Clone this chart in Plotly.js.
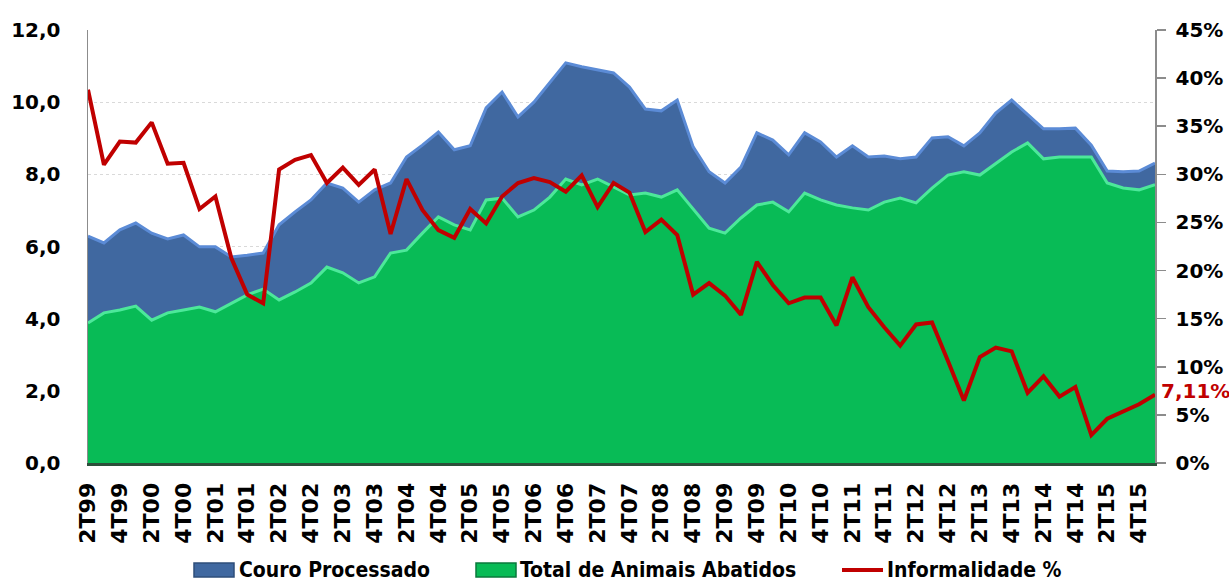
<!DOCTYPE html>
<html>
<head>
<meta charset="utf-8">
<script src="https://cdn.plot.ly/plotly-3.0.1.min.js"></script>
<style>html,body{margin:0;padding:0;background:#fff;}#chart{width:1229px;height:583px;}</style>
</head>
<body>
<div id="chart"></div>
<script>
var quarters = ["2T99","3T99","4T99",
"1T00","2T00","3T00","4T00","1T01","2T01","3T01","4T01",
"1T02","2T02","3T02","4T02","1T03","2T03","3T03","4T03",
"1T04","2T04","3T04","4T04","1T05","2T05","3T05","4T05",
"1T06","2T06","3T06","4T06","1T07","2T07","3T07","4T07",
"1T08","2T08","3T08","4T08","1T09","2T09","3T09","4T09",
"1T10","2T10","3T10","4T10","1T11","2T11","3T11","4T11",
"1T12","2T12","3T12","4T12","1T13","2T13","3T13","4T13",
"1T14","2T14","3T14","4T14","1T15","2T15","3T15","4T15","1T16"];

var tickLabels = ["2T99","4T99","2T00","4T00","2T01","4T01","2T02","4T02","2T03","4T03",
"2T04","4T04","2T05","4T05","2T06","4T06","2T07","4T07","2T08","4T08",
"2T09","4T09","2T10","4T10","2T11","4T11","2T12","4T12","2T13","4T13",
"2T14","4T14","2T15","4T15"];

var leftTicks = [0,2,4,6,8,10,12];
var rightTicks = [0,5,10,15,20,25,30,35,40,45];
var rightTickText = ["0%","5%","10%","15%","20%","25%","30%","35%","40%","45%"];

// Couro Processado (milhões)
var couroProcessado = [6.29,6.10,6.46,6.65,6.37,6.21,6.32,5.99,5.99,5.71,5.76,5.82,
6.60,6.96,7.29,7.76,7.62,7.23,7.57,7.76,8.48,8.81,9.17,8.68,8.79,9.84,10.28,9.59,
10.00,10.53,11.09,10.98,10.89,10.81,10.42,9.81,9.76,10.06,8.76,8.07,7.76,8.20,
9.15,8.95,8.54,9.15,8.90,8.48,8.79,8.48,8.51,8.43,8.48,9.01,9.04,8.79,9.15,9.70,
10.06,9.65,9.26,9.26,9.28,8.81,8.09,8.07,8.09,8.31];

// Total de Animais Abatidos (milhões)
var totalAbatidos = [3.88,4.16,4.24,4.35,3.96,4.16,4.24,4.32,4.19,4.43,4.66,4.82,
4.52,4.74,4.99,5.43,5.27,4.99,5.16,5.82,5.90,6.37,6.82,6.60,6.46,7.29,7.34,6.82,
7.01,7.37,7.87,7.71,7.87,7.65,7.43,7.48,7.37,7.57,7.04,6.51,6.37,6.79,
7.15,7.23,6.96,7.48,7.29,7.15,7.07,7.01,7.23,7.34,7.21,7.62,7.98,8.07,7.98,8.31,
8.62,8.87,8.43,8.48,8.48,8.48,7.76,7.62,7.57,7.71];

// Informalidade (%)
var informalidade = [38.8,31.0,33.4,33.3,35.4,31.1,31.2,26.4,27.7,21.3,17.5,16.6,
30.5,31.5,32.0,29.1,30.7,28.9,30.5,23.8,29.5,26.3,24.2,23.4,26.4,24.9,27.7,29.1,
29.6,29.2,28.2,29.9,26.6,29.1,28.1,24.0,25.3,23.7,17.5,18.7,17.4,15.4,
20.9,18.5,16.6,17.2,17.2,14.3,19.3,16.2,14.1,12.2,14.4,14.6,10.6,6.5,11.0,12.0,
11.6,7.3,9.0,6.9,7.9,2.9,4.6,5.3,6.1,7.11];

var seriesNames = ["Couro Processado", "Total de Animais Abatidos", "Informalidade %"];
var lastLabel = "7,11%";

var colors = {
  blueFill: "#4068A0", blueEdge: "#5B8BD6", blueDark: "#2E4D7A",
  greenFill: "#08BB56", greenEdge: "#4DE89A", greenDark: "#0A7A3C",
  red: "#C00000"
};

var W = 1229, H = 583;
var M = {l: 88, r: 74, t: 30, b: 120};
var plotW = W - M.l - M.r, plotH = H - M.t - M.b;
function px(x) { return (x - M.l) / plotW; }
function py(y) { return (H - M.b - y) / plotH; }

var tickFont = {family: "DejaVu Sans", size: 20, color: "#000", weight: "bold"};
var legendFont = {family: "DejaVu Sans Condensed, DejaVu Sans", size: 21, color: "#000", weight: "bold"};

var traces = [
  {
    type: "scatter", mode: "lines", name: seriesNames[0],
    x: quarters, y: couroProcessado, fill: "tozeroy",
    fillcolor: colors.blueFill,
    line: {color: colors.blueEdge, width: 3},
    hoverinfo: "skip", showlegend: false
  },
  {
    type: "scatter", mode: "lines", name: seriesNames[1],
    x: quarters, y: totalAbatidos, fill: "tozeroy",
    fillcolor: colors.greenFill,
    line: {color: colors.greenEdge, width: 3},
    hoverinfo: "skip", showlegend: false
  },
  {
    type: "scatter", mode: "lines", name: seriesNames[2],
    x: quarters, y: informalidade, yaxis: "y2",
    line: {color: colors.red, width: 4},
    hoverinfo: "skip", showlegend: false
  }
];

// custom legend (swatches + labels) below the axis labels
var legY = 570;
var shapes = [
  {type: "rect", xref: "paper", yref: "paper", x0: px(194), x1: px(234), y0: py(577), y1: py(563),
   fillcolor: colors.blueFill, line: {color: colors.blueDark, width: 1.5}},
  {type: "rect", xref: "paper", yref: "paper", x0: px(476), x1: px(516), y0: py(577), y1: py(563),
   fillcolor: colors.greenFill, line: {color: colors.greenDark, width: 1.5}},
  {type: "line", xref: "paper", yref: "paper", x0: px(842), x1: px(883), y0: py(legY), y1: py(legY),
   line: {color: colors.red, width: 4}}
];

var annotations = [
  {xref: "paper", yref: "paper", x: px(237), y: py(legY), text: seriesNames[0], showarrow: false,
   xanchor: "left", yanchor: "middle", font: legendFont},
  {xref: "paper", yref: "paper", x: px(518), y: py(legY), text: seriesNames[1], showarrow: false,
   xanchor: "left", yanchor: "middle", font: legendFont},
  {xref: "paper", yref: "paper", x: px(885), y: py(legY), text: seriesNames[2], showarrow: false,
   xanchor: "left", yanchor: "middle", font: legendFont},
  {
    x: quarters[quarters.length - 1], y: informalidade[informalidade.length - 1],
    xref: "x", yref: "y2", text: lastLabel, showarrow: false,
    xanchor: "left", yanchor: "middle", xshift: 4, yshift: 4,
    font: {family: "DejaVu Sans", size: 20, color: colors.red, weight: "bold"}
  }
];

var layout = {
  width: W, height: H,
  margin: M,
  paper_bgcolor: "#fff", plot_bgcolor: "#fff",
  separators: ",.",
  showlegend: false,
  xaxis: {
    type: "category",
    range: [0, quarters.length - 1],
    tickvals: tickLabels, ticktext: tickLabels,
    tickangle: -90,
    tickfont: {family: "DejaVu Sans", size: 22, color: "#000", weight: "bold"},
    showgrid: false, zeroline: false,
    showline: true, linecolor: "#2C4F3A", linewidth: 3,
    ticks: "", ticklabelstandoff: 8
  },
  yaxis: {
    range: [0, 12], tickvals: leftTicks, tickformat: ".1f",
    tickfont: tickFont,
    showgrid: true, gridcolor: "#D9D9D9", griddash: "dot", gridwidth: 1,
    zeroline: false, showline: true, linecolor: "#8C8C8C", linewidth: 1.5,
    ticks: "", ticklabelstandoff: 22
  },
  yaxis2: {
    overlaying: "y", side: "right",
    range: [0, 45], tickmode: "array", tickvals: rightTicks, ticktext: rightTickText,
    tickfont: tickFont,
    showgrid: false, zeroline: false,
    showline: true, linecolor: "#8C8C8C", linewidth: 1.5,
    ticks: "outside", ticklen: 9, tickcolor: "#8C8C8C", tickwidth: 1.5,
    ticklabelstandoff: 6
  },
  shapes: shapes,
  annotations: annotations
};

Plotly.newPlot("chart", traces, layout, {staticPlot: true, displayModeBar: false});
</script>
</body>
</html>
